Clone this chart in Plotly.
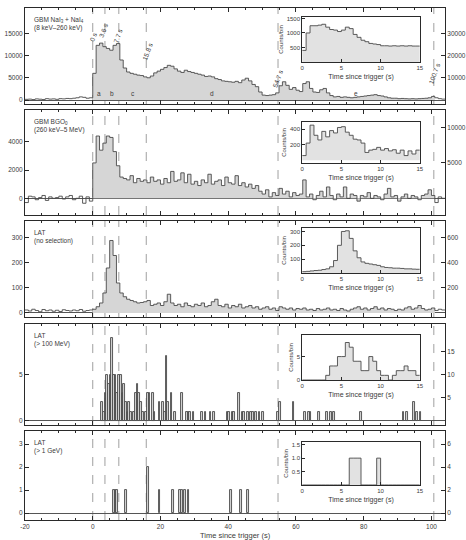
import plotly.graph_objects as go

# ---------------- data ----------------
bin_start = list(range(-20, 104))  # 1 s bins

nai_counts = [150, 200, 100, 250, 180, 120, 300, 200, 250, 150, 300, 250, 350, 300, 400, 500, 700, 600, 400, 500,
              6000, 12300, 12800, 12000, 11600, 11200, 12300, 12700, 9000, 7200,
              6300, 6000, 5800, 5600, 5500, 5200, 5000, 5400, 6100, 6500,
              6900, 7300, 7800, 7600, 7000, 6500, 6200, 6700, 6400, 6200,
              6000, 5800, 5600, 5300, 5400, 5200, 4800, 4600, 4300, 4200,
              4100, 4000, 4200, 3900, 4500, 4900, 4300, 3500, 3000, 1800,
              1100, 1000, 1100, 1200, 1600, 3200, 4100, 3300, 2400, 2800,
              2200, 1900, 3700, 4100, 2600, 1800, 1700, 2300, 2600, 1600,
              1000, 700, 800, 600, 700, 600, 500, 600, 700, 800,
              900, 1000, 1100, 1200, 1000, 900, 700, 500, 400, 400,
              300, 350, 300, 250, 300, 250, 300, 350, 400, 500,
              800, 500, 300, 200]

bgo_counts = [-300, 150, 100, -100, 50, 200, -150, 100, 0, 50, 150, -50, 100, 200, -100, 0, 150, -350, 100, -200,
              2500, 4400, 3400, 3900, 4400, 4300, 3300, 2300, 1500, 1400,
              1300, 1600, 1100, 1400, 1200, 1300, 1100, 1500, 1200, 1300,
              1000, 1400, 1100, 1900, 1200, 1300, 1800, 1100, 1700, 1000,
              1200, 900, 1300, 1100, 1700, 1000, 1200, 1300, 900, 1500,
              1100, 1000, 1600, 900, 1100, 800, 1000, 700, 900, 500,
              300, 600, 100, 400, 200, 700, 300, 500, 100, 400,
              200, 300, 1300, 100, 300, -100, 200, 500, 100, 800,
              200, -100, 300, 100, 800, 0, 300, 200, -200, 200,
              100, 400, 0, 200, 100, -100, 300, 700, 100, 200,
              -200, 100, 300, 0, 200, 100, -100, 200, 300, 600,
              200, -300, 100, 0]

lat_all_counts = [12, 8, 15, 10, 5, 14, 9, 12, 7, 11, 6, 13, 10, 8, 12, 9, 14, 7, 10, 12,
                  15, 25, 40, 80, 180, 290, 230, 120, 80, 65,
                  55, 50, 45, 40, 42, 45, 50, 30, 35, 40,
                  30, 45, 75, 40, 30, 35, 25, 40, 30, 25,
                  35, 30, 40, 25, 30, 45, 55, 30, 25, 35,
                  20, 30, 25, 35, 20, 25, 30, 20, 25, 15,
                  20, 25, 15, 20, 10, 25, 20, 15, 20, 12,
                  18, 15, 20, 12, 15, 10, 18, 12, 15, 20,
                  12, 15, 10, 18, 12, 8, 15, 20, 25, 15,
                  20, 12, 18, 25, 15, 20, 12, 18, 15, 10,
                  15, 12, 20, 25, 15, 20, 30, 18, 12, 15,
                  20, 10, 15, 12]

lat100_t = [2.5, 3.0, 3.5, 4.0, 4.5, 5.0, 5.5, 6.0, 6.5, 7.0, 7.5, 8.0, 8.5, 9.0, 9.5, 10.0, 10.5, 11.0,
            12.0, 12.5, 13.0, 13.5, 14.0, 14.5, 15.5, 16.0, 16.5, 17.5, 18.0, 19.5, 20.5, 21.0, 21.5, 22.0,
            23.0, 24.0, 26.0, 27.5, 28.0, 28.5, 29.5, 32.0, 33.0, 34.5, 35.5, 39.5, 40.0, 41.0, 41.5, 43.0,
            44.0, 44.5, 45.5, 46.5, 47.0, 48.0, 49.0, 50.0, 54.5, 55.0, 59.0, 62.5, 63.5, 64.0, 66.5, 69.0,
            70.0, 71.0, 79.0, 91.5, 92.5, 94.5, 95.5, 96.5]
lat100_n = [2, 1, 3, 5, 4, 5, 9, 5, 5, 3, 5, 5, 3, 4, 2, 1, 2, 1,
            1, 3, 4, 3, 2, 1, 1, 3, 3, 3, 1, 2, 2, 1, 7, 2,
            3, 1, 3, 1, 1, 1, 1, 1, 1, 1, 1, 1, 1, 1, 1, 3,
            1, 1, 1, 1, 1, 1, 1, 1, 1, 2, 2, 1, 1, 1, 1, 1,
            1, 1, 1, 1, 1, 2, 1, 1]

lat1g_t = [6.0, 6.5, 7.0, 9.5, 16.0, 19.5, 23.5, 25.5, 26.0, 27.0, 28.0, 40.5, 43.5, 45.5]
lat1g_n = [1, 1, 1, 1, 2, 1, 1, 1, 1, 1, 1, 1, 1, 1]

inset_start = [0.0, 0.5, 1.0, 1.5, 2.0, 2.5, 3.0, 3.5, 4.0, 4.5, 5.0, 5.5, 6.0, 6.5, 7.0,
               7.5, 8.0, 8.5, 9.0, 9.5, 10.0, 10.5, 11.0, 11.5, 12.0, 12.5, 13.0, 13.5, 14.0, 14.5]
nai_inset = [400, 1000, 1250, 1250, 1270, 1300, 1200, 1120, 1100, 1050, 1100, 1200, 1150, 950, 850,
             750, 700, 640, 620, 600, 560, 560, 550, 560, 550, 560, 550, 560, 550, 550]
bgo_inset = [60, 220, 450, 320, 260, 370, 300, 380, 350, 420, 430, 360, 320, 270, 260,
             220, 100, 130, 140, 165, 130, 150, 120, 135, 90, 130, 60, 120, 80, 130]
lat_all_inset = [10, 12, 15, 18, 20, 25, 30, 45, 90, 200, 300, 305, 250, 160, 110,
                 80, 70, 65, 60, 55, 45, 40, 38, 35, 35, 33, 30, 30, 28, 27]
lat100_inset = [0, 0, 0, 0, 0, 0, 1, 3, 3, 5, 5, 8, 7, 4, 4,
                2, 2, 5, 4, 2, 1, 1, 0, 1, 2, 2, 3, 2, 2, 1]
lat1g_inset = [0, 0, 0, 0, 0, 0, 0, 0, 0, 0, 0, 0, 1, 1, 1,
               0, 0, 0, 0, 1, 0, 0, 0, 0, 0, 0, 0, 0, 0, 0]

interval_edges = [0, 3.6, 7.7, 15.8, 54.7, 100.7]
interval_tags = ["0 s", "3.6 s", "7.7 s", "15.8 s", "54.7 s", "100.7 s"]
interval_letters = ["a", "b", "c", "d", "e"]

panel_labels = ["GBM NaI<sub>3</sub> + NaI<sub>4</sub><br>(8 keV–260 keV)",
                "GBM BGO<sub>0</sub><br>(260 keV–5 MeV)",
                "LAT<br>(no selection)",
                "LAT<br>(> 100 MeV)",
                "LAT<br>(> 1 GeV)"]

x_ticks = [-20, 0, 20, 40, 60, 80, 100]
main_ticks = [[0, 5000, 10000, 15000], [0, 2000, 4000], [0, 100, 200, 300], [0, 5], [0, 1, 2, 3]]
right_ticks = [[10000, 20000, 30000], [5000, 10000], [200, 400, 600], [5, 10, 15], [0, 2, 4, 6]]
inset_x_ticks = [0, 5, 10, 15]
inset_ticks = [[500, 1000, 1500], [200, 400], [100, 200, 300], [0, 5], [0.5, 1.0, 1.5]]
inset_tick_text = [["500", "1000", "1500"], ["200", "400"], ["100", "200", "300"], ["0", "5"],
                   ["0.5", "1.0", "1.5"]]

# ---------------- layout geometry ----------------
FONT = "Liberation Sans"
TXT = "#3a3a3a"
LINE = "#2a2a2a"
CURVE = "#4a4a4a"
FILL = "#d6d6d6"

main_dom = [[0.8125, 1.0], [0.5957, 0.8008], [0.3965, 0.5840], [0.1855, 0.3828], [0.0, 0.1738]]
main_rng = [[-900, 20700], [-1180, 6240], [-16, 368], [-0.45, 10.5], [-0.3, 3.57]]
right_factor = 2
inset_xdom = [0.660, 0.940]
inset_ydom = [[0.8945, 0.9824], [0.6973, 0.7773], [0.4824, 0.5703], [0.2734, 0.3613], [0.0684, 0.1523]]
inset_rng = [[0, 1550], [-35, 490], [0, 325], [0, 9.6], [0, 1.6]]


def sfx(n):
    return "" if n == 1 else str(n)


def steps(starts, vals, width):
    return list(starts) + [starts[-1] + width], list(vals) + [vals[-1]]


fig = go.Figure()
layout = dict()

main_series = [nai_counts, bgo_counts, lat_all_counts]
inset_series = [nai_inset, bgo_inset, lat_all_inset, lat100_inset, lat1g_inset]

for i in range(5):
    n = i + 1
    xa, ya = "x" + sfx(n), "y" + sfx(n)
    if i < 3:
        vals = main_series[i]
        fs = [s for s in bin_start if 0 <= s < interval_edges[-1]]
        fv = [v for s, v in zip(bin_start, vals) if 0 <= s < interval_edges[-1]]
        fx, fy = steps(fs, fv, 1)
        fig.add_trace(go.Scatter(x=fx, y=fy, mode="lines", line=dict(width=0, shape="hv"),
                                 fill="tozeroy", fillcolor=FILL, xaxis=xa, yaxis=ya,
                                 showlegend=False, hoverinfo="skip"))
        sx, sy = steps(bin_start, vals, 1)
        fig.add_trace(go.Scatter(x=sx, y=sy, mode="lines", line=dict(width=0.9, color=CURVE, shape="hv"),
                                 xaxis=xa, yaxis=ya, showlegend=False))
    else:
        bt = lat100_t if i == 3 else lat1g_t
        bn = lat100_n if i == 3 else lat1g_n
        fig.add_trace(go.Bar(x=[t + 0.25 for t in bt], y=bn, width=0.5,
                             marker=dict(color=FILL, line=dict(color=CURVE, width=0.9)),
                             xaxis=xa, yaxis=ya, showlegend=False))
    # invisible trace for right axis
    fig.add_trace(go.Scatter(x=[-100], y=[0], mode="markers", marker=dict(opacity=0),
                             xaxis=xa, yaxis="y" + str(n + 5), showlegend=False, hoverinfo="skip"))
    # inset
    ix, iy = steps(inset_start, inset_series[i], 0.5)
    fig.add_trace(go.Scatter(x=ix, y=iy, mode="lines", line=dict(width=0.9, color=CURVE, shape="hv"),
                             fill="tozeroy", fillcolor="#e2e2e2",
                             xaxis="x" + str(n + 5), yaxis="y" + str(n + 10), showlegend=False))

    common_ax = dict(showline=True, linecolor=LINE, linewidth=1, showgrid=False, ticks="inside",
                     tickcolor=LINE, automargin=False, tickfont=dict(size=6.5, color=TXT, family=FONT))
    layout["xaxis" + sfx(n)] = dict(common_ax, domain=[0, 1], range=[-20, 104], anchor=ya, mirror="ticks",
                                    tickvals=x_ticks, ticktext=[str(v) for v in x_ticks],
                                    ticklen=4, zeroline=False, showticklabels=(i == 4),
                                    minor=dict(ticks="inside", ticklen=2, dtick=5, tickcolor=LINE))
    layout["yaxis" + sfx(n)] = dict(common_ax, domain=main_dom[i], range=main_rng[i], anchor=xa, mirror=True,
                                    tickvals=main_ticks[i], ticktext=[str(v) for v in main_ticks[i]],
                                    ticklen=4, zeroline=True, zerolinecolor="#555", zerolinewidth=0.8)
    layout["yaxis" + str(n + 5)] = dict(common_ax, overlaying=ya, side="right", anchor=xa,
                                        range=[r * right_factor for r in main_rng[i]],
                                        tickvals=right_ticks[i], ticktext=[str(v) for v in right_ticks[i]],
                                        ticklen=4, zeroline=False)
    layout["xaxis" + str(n + 5)] = dict(common_ax, domain=inset_xdom, range=[0, 15], anchor="y" + str(n + 10),
                                        mirror=True, tickvals=inset_x_ticks,
                                        ticktext=[str(v) for v in inset_x_ticks], ticklen=3, zeroline=False,
                                        tickfont=dict(size=6, color=TXT, family=FONT),
                                        title=dict(text="Time since trigger (s)", standoff=3,
                                                   font=dict(size=7, color=TXT, family=FONT)))
    layout["yaxis" + str(n + 10)] = dict(common_ax, domain=inset_ydom[i], range=inset_rng[i],
                                         anchor="x" + str(n + 5),
                                         mirror=True, tickvals=inset_ticks[i], ticktext=inset_tick_text[i],
                                         ticklen=3, zeroline=False,
                                         tickfont=dict(size=6, color=TXT, family=FONT),
                                         title=dict(text="Counts/bin", standoff=2,
                                                    font=dict(size=6, color=TXT, family=FONT)))

shapes = []
for i in range(5):
    n = i + 1
    for t in interval_edges:
        shapes.append(dict(type="line", xref="x" + sfx(n), yref="y" + sfx(n) + " domain", x0=t, x1=t, y0=0, y1=1,
                           line=dict(color="#888", width=0.8, dash="dash"), layer="below"))
    for t in interval_edges[1:3]:
        shapes.append(dict(type="line", xref="x" + str(n + 5), yref="y" + str(n + 10) + " domain",
                           x0=t, x1=t, y0=0, y1=1,
                           line=dict(color="#999", width=0.7, dash="dash"), layer="below"))

annotations = []
for i in range(5):
    annotations.append(dict(text=panel_labels[i], xref="paper", yref="paper", x=0.016,
                            y=main_dom[i][1] - 0.012, xanchor="left", yanchor="top", align="left",
                            showarrow=False, font=dict(size=6.5, color=TXT, family=FONT)))

tag_pos = [(0.3, 14200), (3.3, 15800), (7.4, 14600), (16.1, 11000), (54.7, 4800), (100.9, 5900)]
for (tx, ty), tag in zip(tag_pos, interval_tags):
    annotations.append(dict(text=tag, xref="x", yref="y", x=tx, y=ty, textangle=-70, showarrow=False,
                            font=dict(size=6.5, color=TXT, family=FONT)))
for k, letter in enumerate(interval_letters):
    mid = (interval_edges[k] + interval_edges[k + 1]) / 2
    annotations.append(dict(text=letter, xref="x", yref="y", x=mid, y=1500, showarrow=False,
                            font=dict(size=6.5, color=TXT, family=FONT)))

annotations.append(dict(text="Time since trigger (s)", xref="paper", yref="paper", x=0.5, y=-0.03,
                        xanchor="center", yanchor="middle", showarrow=False,
                        font=dict(size=7.5, color=TXT, family=FONT)))

fig.update_layout(**layout)
fig.update_layout(width=466, height=540, margin=dict(l=25, r=21, t=8, b=20, autoexpand=False),
                  paper_bgcolor="white", plot_bgcolor="white", shapes=shapes, annotations=annotations,
                  bargap=0, font=dict(family=FONT, color=TXT, size=7), showlegend=False)

fig.write_html("out.html")
